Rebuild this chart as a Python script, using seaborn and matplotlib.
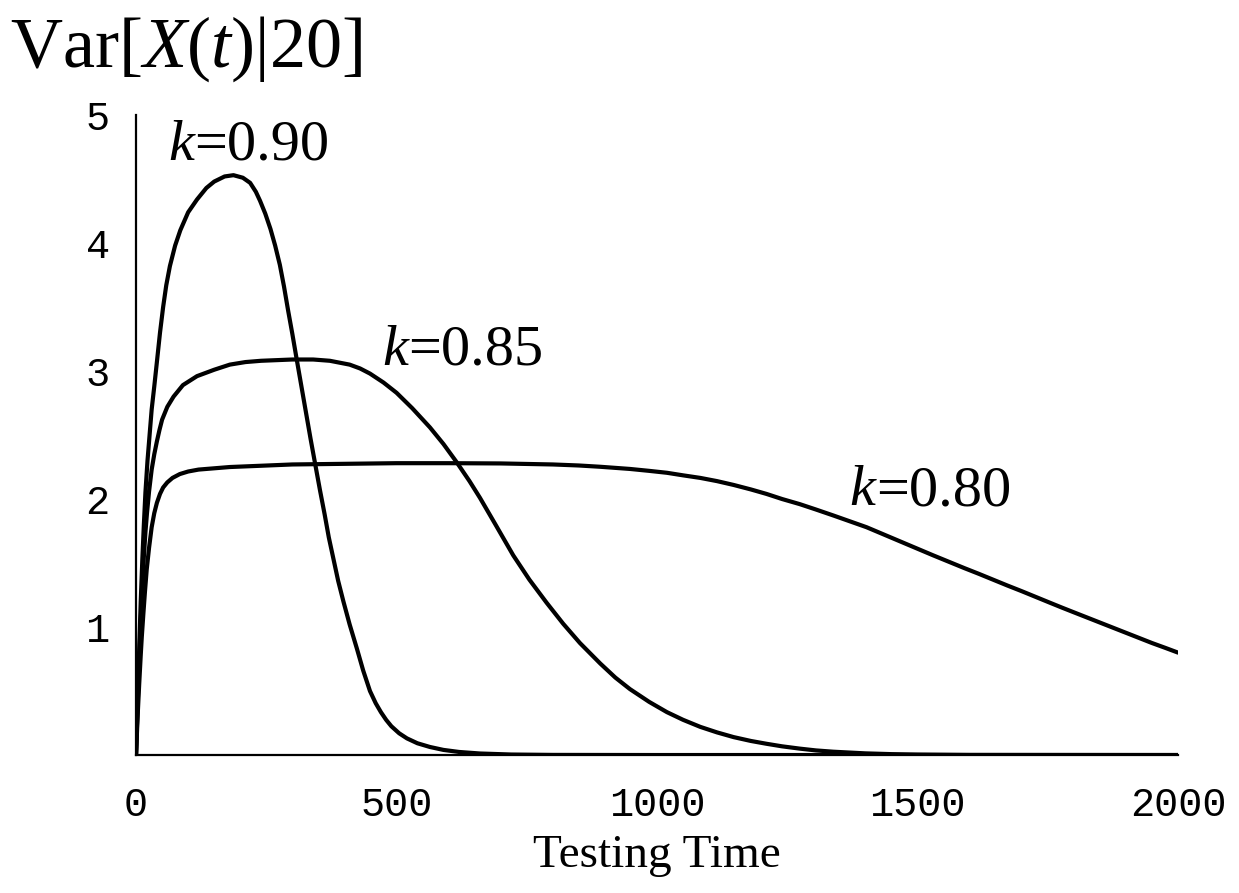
import matplotlib
matplotlib.use("Agg")
import matplotlib.pyplot as plt
import numpy as np
import pandas as pd
import seaborn as sns

# Conditional variance curves Var[X(t)|20] for three values of k
t_090 = [0, 3, 6, 9, 12, 15, 18, 22, 26, 30, 35, 40, 46, 52, 58, 65, 75, 85,
         100, 117, 135, 150, 170, 187, 205, 219, 230, 238, 248, 258, 267, 276,
         284, 292, 300, 308, 317, 326, 335, 344, 353, 362, 370, 379, 388, 398,
         410, 424, 436, 449, 460, 470, 480, 490, 505, 520, 540, 564, 590, 620,
         660, 720, 800, 1000, 1500, 2000]
v_090 = [0, 0.42, 0.82, 1.2, 1.52, 1.8, 2.05, 2.3, 2.5, 2.7, 2.88, 3.07, 3.3,
         3.5, 3.67, 3.82, 3.98, 4.1, 4.24, 4.34, 4.43, 4.48, 4.52, 4.53, 4.51,
         4.47, 4.4, 4.33, 4.23, 4.11, 3.98, 3.83, 3.66, 3.47, 3.29, 3.1, 2.89,
         2.68, 2.47, 2.27, 2.07, 1.88, 1.7, 1.53, 1.36, 1.2, 1.02, 0.83, 0.66,
         0.5, 0.405, 0.335, 0.275, 0.225, 0.17, 0.13, 0.092, 0.063, 0.04,
         0.024, 0.012, 0.004, 0.001, 0, 0, 0]

t_085 = [0, 3, 6, 9, 12, 15, 18, 21, 25, 30, 35, 40, 45, 50, 60, 72, 90, 117,
         150, 180, 210, 240, 300, 340, 372, 410, 430, 449, 475, 500, 530, 564,
         590, 615, 640, 660, 690, 724, 755, 788, 820, 852, 891, 920, 948, 985,
         1019, 1050, 1083, 1115, 1147, 1180, 1210, 1240, 1274, 1305, 1338, 1400,
         1450, 1500, 1600, 2000]
v_085 = [0, 0.38, 0.72, 1.05, 1.3, 1.55, 1.74, 1.89, 2.06, 2.23, 2.35, 2.45,
         2.54, 2.62, 2.72, 2.8, 2.89, 2.96, 3.01, 3.05, 3.07, 3.08, 3.09, 3.09,
         3.08, 3.05, 3.02, 2.98, 2.91, 2.83, 2.71, 2.56, 2.43, 2.29, 2.14, 2.01,
         1.8, 1.56, 1.37, 1.19, 1.025, 0.875, 0.715, 0.605, 0.515, 0.415, 0.335,
         0.275, 0.22, 0.177, 0.14, 0.11, 0.088, 0.068, 0.05, 0.036, 0.026,
         0.013, 0.007, 0.004, 0.001, 0]

t_080 = [0, 3, 6, 9, 11, 14, 17, 20.5, 25, 30, 35, 40, 46, 52, 60, 70, 84, 100,
         120, 150, 180, 240, 300, 400, 500, 600, 700, 800, 850, 891, 948, 985,
         1019, 1050, 1083, 1115, 1147, 1180, 1210, 1240, 1274, 1305, 1338, 1370,
         1402, 1434, 1466, 1498, 1530, 1560, 1590, 1618, 1645, 1672, 1700, 1727,
         1754, 1777, 1800, 1825, 1850, 1875, 1900, 1925, 1950, 1975, 2000]
v_080 = [0, 0.3, 0.55, 0.78, 0.92, 1.1, 1.27, 1.45, 1.62, 1.78, 1.89, 1.97,
         2.04, 2.09, 2.13, 2.165, 2.195, 2.215, 2.23, 2.24, 2.25, 2.26, 2.27,
         2.275, 2.28, 2.28, 2.278, 2.27, 2.262, 2.252, 2.235, 2.22, 2.205,
         2.185, 2.165, 2.14, 2.11, 2.075, 2.04, 2.0, 1.96, 1.918, 1.872, 1.826,
         1.78, 1.725, 1.67, 1.615, 1.56, 1.51, 1.46, 1.415, 1.37, 1.325, 1.28,
         1.235, 1.19, 1.152, 1.115, 1.075, 1.035, 0.995, 0.955, 0.915, 0.875,
         0.838, 0.80]

k_labels = ["0.90", "0.85", "0.80"]
label_pos = [(61, 4.65), (472, 3.05), (1370, 1.95)]

x_ticks = [0, 500, 1000, 1500, 2000]
y_ticks = [1, 2, 3, 4, 5]

frames = []
for k, t, v in zip(k_labels, [t_090, t_085, t_080], [v_090, v_085, v_080]):
    frames.append(pd.DataFrame({"t": t, "var": v, "k": k}))
df = pd.concat(frames, ignore_index=True)

sns.set_style("white")
plt.rcParams["font.family"] = ["Liberation Serif", "DejaVu Serif"]
plt.rcParams["mathtext.fontset"] = "custom"
plt.rcParams["mathtext.rm"] = "Liberation Serif"
plt.rcParams["mathtext.it"] = "Liberation Serif:italic"

fig = plt.figure(figsize=(12.39, 8.93), dpi=100)
ax = fig.add_axes([0.1098, 0.1545, 0.841, 0.7167])

sns.lineplot(data=df, x="t", y="var", hue="k", palette=["black"] * 3,
             linewidth=3.0, legend=False, sort=False, ax=ax)
for line in ax.get_lines():
    line.set_solid_joinstyle("round")
    line.set_solid_capstyle("round")

ax.set_xlim(0, 2000)
ax.set_ylim(0, 5)
ax.set_xticks(x_ticks)
ax.set_yticks(y_ticks)
ax.set_xticklabels([str(x) for x in x_ticks])
ax.set_yticklabels([str(y) for y in y_ticks])
ax.tick_params(axis="both", direction="in", length=6, width=1.2, color="black")
ax.tick_params(axis="x", pad=22)
ax.tick_params(axis="y", pad=19)
for lab in ax.get_xticklabels() + ax.get_yticklabels():
    lab.set_family("Liberation Mono")
    lab.set_fontsize(29)
    lab.set_color("black")

for side in ["top", "right"]:
    ax.spines[side].set_visible(False)
for side in ["left", "bottom"]:
    ax.spines[side].set_color("black")
    ax.spines[side].set_linewidth(1.6)

ax.set_xlabel("Testing Time", fontsize=34, labelpad=8, color="black")
ax.set_ylabel("")

# curve labels: italic k followed by upright "=value"
for k, (x, y) in zip(k_labels, label_pos):
    tk = ax.text(x, y, "k", fontsize=42, style="italic", ha="left",
                 va="baseline", color="black")
    ax.annotate("=" + k, xy=(1, 0), xycoords=tk, fontsize=42, ha="left",
                va="bottom", color="black")

fig.text(10 / 1239, 1 - 67 / 893,
         r"$\mathregular{Var[}X\mathregular{(}t\mathregular{)|20]}$",
         fontsize=52, ha="left", va="baseline", color="black")

fig.savefig("out.png", dpi=100, facecolor="white")
